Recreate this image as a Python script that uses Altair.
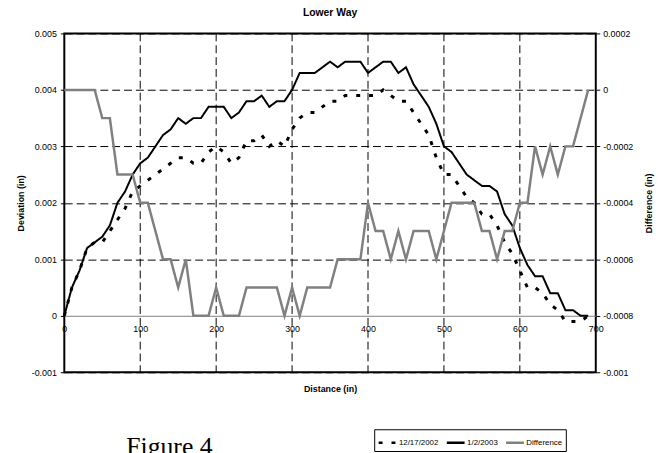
import altair as alt
import pandas as pd

# ---------------- data ----------------
distance = [0, 10, 20, 30, 40, 50, 60, 70, 80, 90,
            100, 110, 120, 130, 140, 150, 160, 170, 180, 190,
            200, 210, 220, 230, 240, 250, 260, 270, 280, 290,
            300, 310, 320, 330, 340, 350, 360, 370, 380, 390,
            400, 410, 420, 430, 440, 450, 460, 470, 480, 490,
            500, 510, 520, 530, 540, 550, 560, 570, 580, 590,
            600, 610, 620, 630, 640, 650, 660, 670, 680, 690]

dev_2002 = [0.0000, 0.0005, 0.0008, 0.0012, 0.0013, 0.0013, 0.0015, 0.0017, 0.0019, 0.0022,
            0.0023, 0.0024, 0.0025, 0.0026, 0.0027, 0.0028, 0.0028, 0.0027, 0.0027, 0.0029,
            0.0030, 0.0029, 0.0027, 0.0028, 0.0031, 0.0031, 0.0032, 0.0030, 0.0031, 0.0030,
            0.0033, 0.0035, 0.0036, 0.0036, 0.0037, 0.0038, 0.0038, 0.0039, 0.0039, 0.0039,
            0.0039, 0.0039, 0.0040, 0.0039, 0.0038, 0.0038, 0.0036, 0.0034, 0.0032, 0.0028,
            0.0025, 0.0025, 0.0023, 0.0021, 0.0020, 0.0018, 0.0018, 0.0016, 0.0013, 0.0011,
            0.0008, 0.0005, 0.0005, 0.0004, 0.0002, 0.0001, -0.0001, -0.0001, -0.0001, 0.0000]

dev_2003 = [0.0000, 0.0005, 0.0008, 0.0012, 0.0013, 0.0014, 0.0016, 0.0020, 0.0022, 0.0025,
            0.0027, 0.0028, 0.0030, 0.0032, 0.0033, 0.0035, 0.0034, 0.0035, 0.0035, 0.0037,
            0.0037, 0.0037, 0.0035, 0.0036, 0.0038, 0.0038, 0.0039, 0.0037, 0.0038, 0.0038,
            0.0040, 0.0043, 0.0043, 0.0043, 0.0044, 0.0045, 0.0044, 0.0045, 0.0045, 0.0045,
            0.0043, 0.0044, 0.0045, 0.0045, 0.0043, 0.0044, 0.0041, 0.0039, 0.0037, 0.0034,
            0.0030, 0.0029, 0.0027, 0.0025, 0.0024, 0.0023, 0.0023, 0.0022, 0.0018, 0.0016,
            0.0012, 0.0009, 0.0007, 0.0007, 0.0004, 0.0004, 0.0001, 0.0001, 0.0000, 0.0000]

difference = [0.0, 0.0, 0.0, 0.0, 0.0, -0.0001, -0.0001, -0.0003, -0.0003, -0.0003,
              -0.0004, -0.0004, -0.0005, -0.0006, -0.0006, -0.0007, -0.0006, -0.0008, -0.0008, -0.0008,
              -0.0007, -0.0008, -0.0008, -0.0008, -0.0007, -0.0007, -0.0007, -0.0007, -0.0007, -0.0008,
              -0.0007, -0.0008, -0.0007, -0.0007, -0.0007, -0.0007, -0.0006, -0.0006, -0.0006, -0.0006,
              -0.0004, -0.0005, -0.0005, -0.0006, -0.0005, -0.0006, -0.0005, -0.0005, -0.0005, -0.0006,
              -0.0005, -0.0004, -0.0004, -0.0004, -0.0004, -0.0005, -0.0005, -0.0006, -0.0005, -0.0005,
              -0.0004, -0.0004, -0.0002, -0.0003, -0.0002, -0.0003, -0.0002, -0.0002, -0.0001, 0.0]

series_names = ["12/17/2002", "1/2/2003", "Difference"]
grid_x = [100, 200, 300, 400, 500, 600]
x_ticks = [0, 100, 200, 300, 400, 500, 600, 700]
left_ticks = [-0.001, 0.0, 0.001, 0.002, 0.003, 0.004, 0.005]
right_ticks = [-0.001, -0.0008, -0.0006, -0.0004, -0.0002, 0.0, 0.0002]

# ---------------- chart ----------------
W, H = 538, 343
FONT = "Liberation Sans"
label_expr = ("datum.value < 0 ? '-' + format(-datum.value, '.4~f') "
              ": format(datum.value, '.4~f')")

df_a = pd.DataFrame({"d": distance, "v": dev_2002, "series": series_names[0]})
df_b = pd.DataFrame({"d": distance, "v": dev_2003, "series": series_names[1]})
df_c = pd.DataFrame({"d": distance, "v": difference, "series": series_names[2]})
df_grid = pd.DataFrame({"d": grid_x})

x_scale = alt.Scale(domain=[0, 700], nice=False, zero=False)
x_axis = alt.Axis(values=x_ticks, title="Distance (in)", offset=-H / 6,
                  grid=False, ticks=False, tickSize=0, domain=True,
                  domainColor="#808080", domainWidth=1, labelPadding=9,
                  labelFlush=False, labelOverlap=False, titleY=74,
                  titleBaseline="middle")
x_enc = alt.X("d:Q", scale=x_scale, axis=x_axis)

y_left = alt.Y(
    "v:Q", scale=alt.Scale(domain=[-0.001, 0.005], nice=False, zero=False),
    axis=alt.Axis(values=left_ticks, title="Deviation (in)", orient="left",
                  grid=True, gridColor="black", gridDash=[8, 4], gridWidth=1,
                  gridOpacity={"condition": {"test": "datum.value === 0", "value": 0}, "value": 1},
                  labelExpr=label_expr, domain=False, tickSize=4, tickColor="black",
                  labelPadding=4, labelFlush=False, titleX=-44, titleBaseline="middle",
                  titleAngle=270),
)
y_right = alt.Y(
    "v:Q", scale=alt.Scale(domain=[-0.001, 0.0002], nice=False, zero=False),
    axis=alt.Axis(values=right_ticks, title="Difference (in)", orient="right",
                  grid=False, labelExpr=label_expr, domain=False, tickSize=4,
                  tickColor="black", labelPadding=3, labelFlush=False, titleX=53,
                  titleBaseline="middle", titleAngle=270),
)

legend = alt.Legend(title=None, orient="none", legendX=313.7, legendY=400.7,
                    direction="horizontal")
color = alt.Color("series:N",
                  scale=alt.Scale(domain=series_names, range=["black", "black", "#808080"]),
                  legend=legend)
dash = alt.StrokeDash("series:N",
                      scale=alt.Scale(domain=series_names, range=[[4, 9], [1, 0], [1, 0]]),
                      legend=legend)

vgrid = alt.Chart(df_grid).mark_rule(
    color="black", strokeDash=[8, 4], strokeWidth=1
).encode(x=x_enc)

line_a = alt.Chart(df_a).mark_line(strokeWidth=3, strokeCap="butt").encode(
    x=x_enc, y=y_left, color=color, strokeDash=dash)
line_b = alt.Chart(df_b).mark_line(strokeWidth=2).encode(
    x=x_enc, y=y_left, color=color, strokeDash=dash)

fig_text = alt.Chart(pd.DataFrame({"t": ["Figure 4"]})).mark_text(
    font="Liberation Serif", fontSize=26, align="left", baseline="alphabetic", color="black"
).encode(x=alt.value(62.7), y=alt.value(426.5), text="t:N")

left = alt.layer(vgrid, line_a, line_b, fig_text)
right = alt.Chart(df_c).mark_line(strokeWidth=2.5).encode(
    x=x_enc, y=y_right, color=color, strokeDash=dash)

chart = (
    alt.layer(left, right)
    .resolve_scale(y="independent")
    .properties(
        width=W, height=H,
        title=alt.TitleParams("Lower Way"),
        autosize=alt.AutoSizeParams(type="none"),
        padding={"left": 57, "top": 23, "right": 64, "bottom": 79},
    )
    .configure_view(stroke="black", strokeWidth=2)
    .configure_axis(labelFont=FONT, titleFont=FONT, labelColor="black", titleColor="black",
                    labelFontSize=9, titleFontSize=9, titleFontWeight="bold")
    .configure_legend(labelFont=FONT, labelFontSize=8, labelColor="black",
                      symbolType="stroke", symbolSize=324, symbolStrokeWidth=2.5,
                      labelOffset=1, columnPadding=2, padding=3,
                      strokeColor="black", fillColor="white")
    .configure_title(font=FONT, fontSize=10.5, fontWeight="bold", anchor="middle",
                     frame="group", offset=11, color="black")
)

chart.save("out.html", embed_options={"renderer": "svg", "actions": False})
